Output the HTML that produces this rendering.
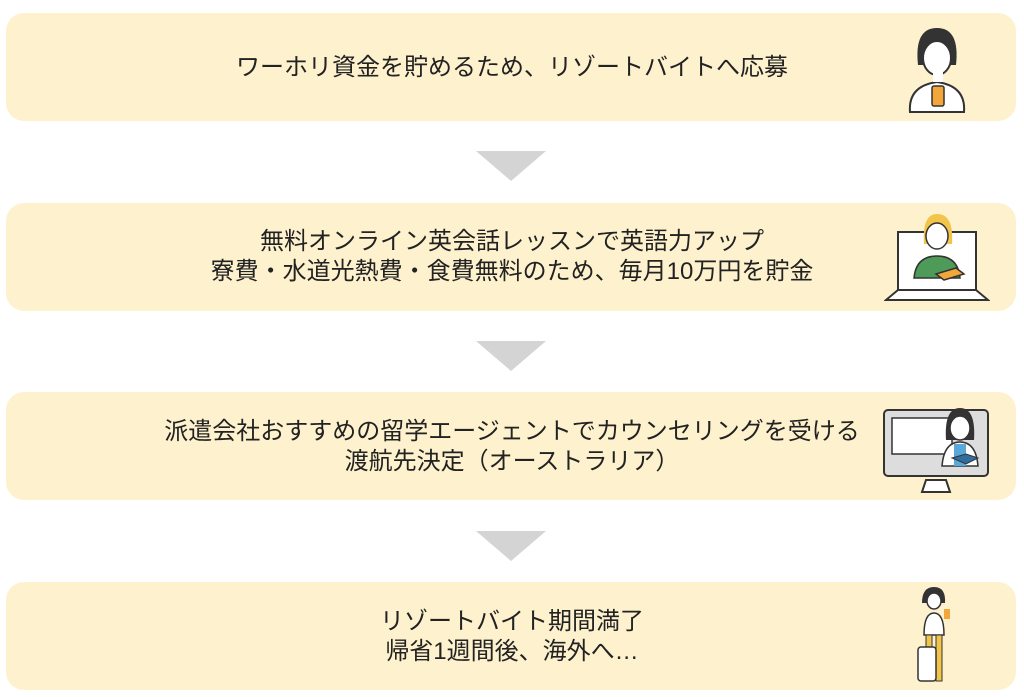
<!DOCTYPE html>
<html><head><meta charset="utf-8"><style>
body{margin:0;width:1024px;height:697px;background:#fff;position:relative;overflow:hidden;font-family:"Liberation Sans","Noto Sans CJK JP",sans-serif;}
.b{position:absolute;left:6px;width:1010px;height:108px;background:#fef1cd;border-radius:18px;}
.t{position:absolute;left:0;width:1024px;text-align:center;font-size:24px;line-height:30px;color:#222;}
.a{position:absolute;left:476px;width:0;height:0;border-left:35px solid transparent;border-right:35px solid transparent;border-top:30px solid #d4d4d4;}
svg{position:absolute}
</style></head><body>
<div class="b" style="top:13px"></div>
<div class="b" style="top:203px"></div>
<div class="b" style="top:392px"></div>
<div class="b" style="top:582px"></div>
<div class="a" style="top:151px"></div>
<div class="a" style="top:341px"></div>
<div class="a" style="top:531px"></div>
<div class="t" style="top:53px">ワーホリ資金を貯めるため、リゾートバイトへ応募</div>
<div class="t" style="top:227px">無料オンライン英会話レッスンで英語力アップ<br>寮費・水道光熱費・食費無料のため、毎月10万円を貯金</div>
<div class="t" style="top:417px">派遣会社おすすめの留学エージェントでカウンセリングを受ける<br>渡航先決定（オーストラリア）</div>
<div class="t" style="top:607px">リゾートバイト期間満了<br>帰省1週間後、海外へ…</div>
<svg style="left:900px;top:20px" width="75" height="98" viewBox="0 0 75 98">
<path d="M10 92 Q8 66 37 62 Q66 66 64 92 Z" fill="#fff" stroke="#333" stroke-width="2"/>
<path d="M18 45 Q14 8 37 8 Q60 8 56 45 Z" fill="#333"/>
<ellipse cx="37" cy="38" rx="14" ry="17" fill="#fff" stroke="#333" stroke-width="2"/>
<rect x="33" y="52" width="10" height="10" fill="#fff"/>
<rect x="32" y="66" width="12" height="20" rx="2" fill="#f3a63a" stroke="#333" stroke-width="1.5"/>
</svg>
<svg style="left:884px;top:208px" width="106" height="96" viewBox="0 0 106 96">
<rect x="14" y="24" width="78" height="58" fill="#fff" stroke="#333" stroke-width="2"/>
<path d="M2 92 L14 82 L92 82 L104 92 Z" fill="#fff" stroke="#333" stroke-width="2"/>
<path d="M30 70 Q32 48 53 48 Q74 48 76 70 Z" fill="#4e9a58" stroke="#333" stroke-width="1.5"/>
<path d="M40 36 Q38 6 53 6 Q70 6 68 36 Z" fill="#f3c44a"/>
<ellipse cx="53" cy="28" rx="11" ry="13" fill="#fff" stroke="#333" stroke-width="1.5"/>
<path d="M52 66 L72 60 L80 66 L60 72 Z" fill="#f3a63a" stroke="#333" stroke-width="1.5"/>
</svg>
<svg style="left:882px;top:404px" width="108" height="94" viewBox="0 0 108 94">
<rect x="2" y="6" width="104" height="66" rx="4" fill="#ddd" stroke="#333" stroke-width="2"/>
<rect x="10" y="14" width="60" height="36" fill="#fff" stroke="#333" stroke-width="1.5"/>
<path d="M44 76 L64 76 L68 88 L40 88 Z" fill="#fff" stroke="#333" stroke-width="2"/>
<path d="M64 36 Q62 4 78 4 Q94 4 92 36 Z" fill="#333"/>
<ellipse cx="78" cy="24" rx="10" ry="12" fill="#fff" stroke="#333" stroke-width="1.5"/>
<path d="M60 62 Q62 38 78 38 Q94 38 96 62 Z" fill="#fff" stroke="#333" stroke-width="1.5"/>
<rect x="72" y="40" width="12" height="22" fill="#5ba8d8"/>
<path d="M70 54 L84 50 L96 54 L84 60 Z" fill="#2f6e9e" stroke="#333" stroke-width="1"/>
</svg>
<svg style="left:912px;top:585px" width="50" height="104" viewBox="0 0 50 104">
<path d="M10 18 Q10 2 22 2 Q34 2 33 18 Z" fill="#333"/>
<ellipse cx="22" cy="16" rx="7" ry="8" fill="#fff" stroke="#333" stroke-width="1.5"/>
<path d="M12 50 Q12 28 22 28 Q32 28 32 50 Z" fill="#fff" stroke="#333" stroke-width="1.5"/>
<rect x="14" y="50" width="6" height="46" fill="#f3c44a" stroke="#333" stroke-width="1"/>
<rect x="24" y="50" width="6" height="46" fill="#f3c44a" stroke="#333" stroke-width="1"/>
<rect x="6" y="62" width="18" height="34" rx="3" fill="#fff" stroke="#333" stroke-width="1.5"/>
<rect x="32" y="24" width="6" height="10" fill="#f3a63a"/>
</svg>
</body></html>
